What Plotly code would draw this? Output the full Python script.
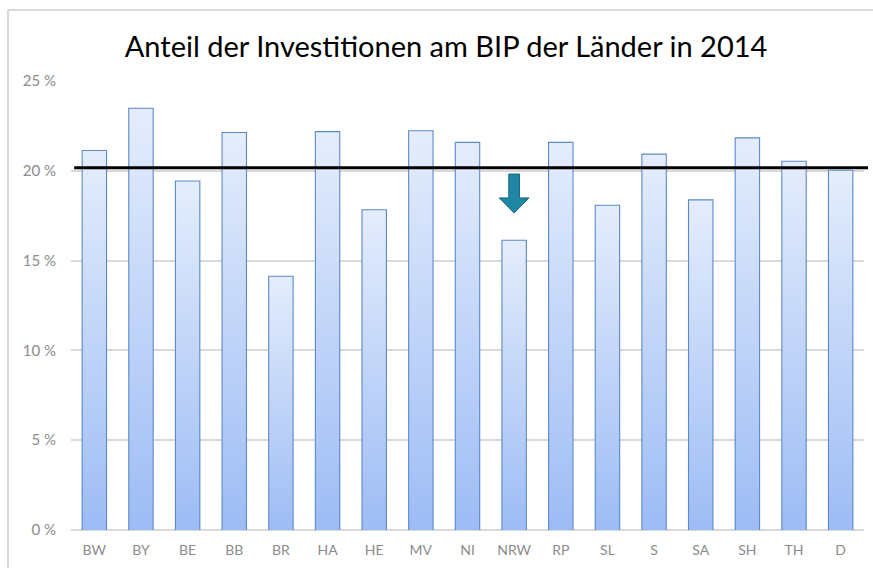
import plotly.graph_objects as go

categories = ["BW", "BY", "BE", "BB", "BR", "HA", "HE", "MV", "NI", "NRW",
              "RP", "SL", "S", "SA", "SH", "TH", "D"]
values = [21.1, 23.45, 19.4, 22.1, 14.1, 22.15, 17.8, 22.2, 21.55, 16.1,
          21.55, 18.05, 20.9, 18.35, 21.8, 20.5, 20.0]
reference_line = 20.17
title_text = "Anteil der Investitionen am BIP der Länder in 2014"

FONT = "Lato"
idx = list(range(len(categories)))
half = 0.25

fig = go.Figure()

# gradient fills (one polygon per bar, built from the data)
for i, v in zip(idx, values):
    fig.add_trace(go.Scatter(
        x=[i - half, i + half, i + half, i - half, i - half],
        y=[0, 0, v, v, 0],
        mode="lines", fill="toself",
        fillgradient=dict(type="vertical",
                          colorscale=[[0, "#9dbcf5"], [1, "#e4edfc"]]),
        line=dict(width=0), hoverinfo="skip", showlegend=False))

# bar outlines
fig.add_trace(go.Bar(
    x=idx, y=values, width=2 * half,
    marker=dict(color="rgba(0,0,0,0)", line=dict(color="#5d89c8", width=2.2)),
    showlegend=False, hovertext=categories))

shapes = [
    dict(type="line", xref="paper", yref="y", x0=0.004, x1=1.005,
         y0=reference_line, y1=reference_line,
         line=dict(color="black", width=3)),
    # outer frame (top and left)
    dict(type="line", xref="paper", yref="paper", x0=-0.0795, x1=1.02,
         y0=1.158, y1=1.158, line=dict(color="#d9d9d9", width=2)),
    dict(type="line", xref="paper", yref="paper", x0=-0.0795, x1=-0.0795,
         y0=1.158, y1=-0.1, line=dict(color="#d9d9d9", width=2)),
]
# down arrow at NRW
c = categories.index("NRW")
sw, hw = 0.115, 0.32
y_top, y_head, y_tip = 19.82, 18.49, 17.65
path = (f"M {c-sw},{y_top} L {c+sw},{y_top} L {c+sw},{y_head} L {c+hw},{y_head} "
        f"L {c},{y_tip} L {c-hw},{y_head} L {c-sw},{y_head} Z")
shapes.append(dict(type="path", xref="x", yref="y", path=path,
                   fillcolor="#1f87a3", line=dict(color="#176a80", width=1)))

fig.update_layout(
    width=873, height=568,
    margin=dict(l=71, r=9, t=81, b=38),
    paper_bgcolor="white", plot_bgcolor="white",
    title=dict(text=title_text, x=0.511, xanchor="center",
               y=1 - 47 / 568, yanchor="middle", yref="container",
               font=dict(family=FONT, size=29, color="black")),
    shapes=shapes,
    bargap=0.5,
    xaxis=dict(range=[-0.5, len(categories) - 0.5], tickvals=idx,
               ticktext=categories, showgrid=False, zeroline=False,
               showline=False, ticks="", ticklabelstandoff=10,
               tickfont=dict(family=FONT, size=14, color="#8c8c8c")),
    yaxis=dict(range=[0, 25], dtick=5, ticksuffix=" %", showgrid=True,
               gridcolor="#d9d9d9", gridwidth=1.5, zeroline=True,
               zerolinecolor="#d9d9d9", zerolinewidth=1.5, showline=False,
               ticks="", ticklabelstandoff=14,
               tickfont=dict(family=FONT, size=15, color="#8c8c8c")),
)

fig.write_html("out.html", config={"displayModeBar": False},
               post_script="document.body.style.margin='0';")
